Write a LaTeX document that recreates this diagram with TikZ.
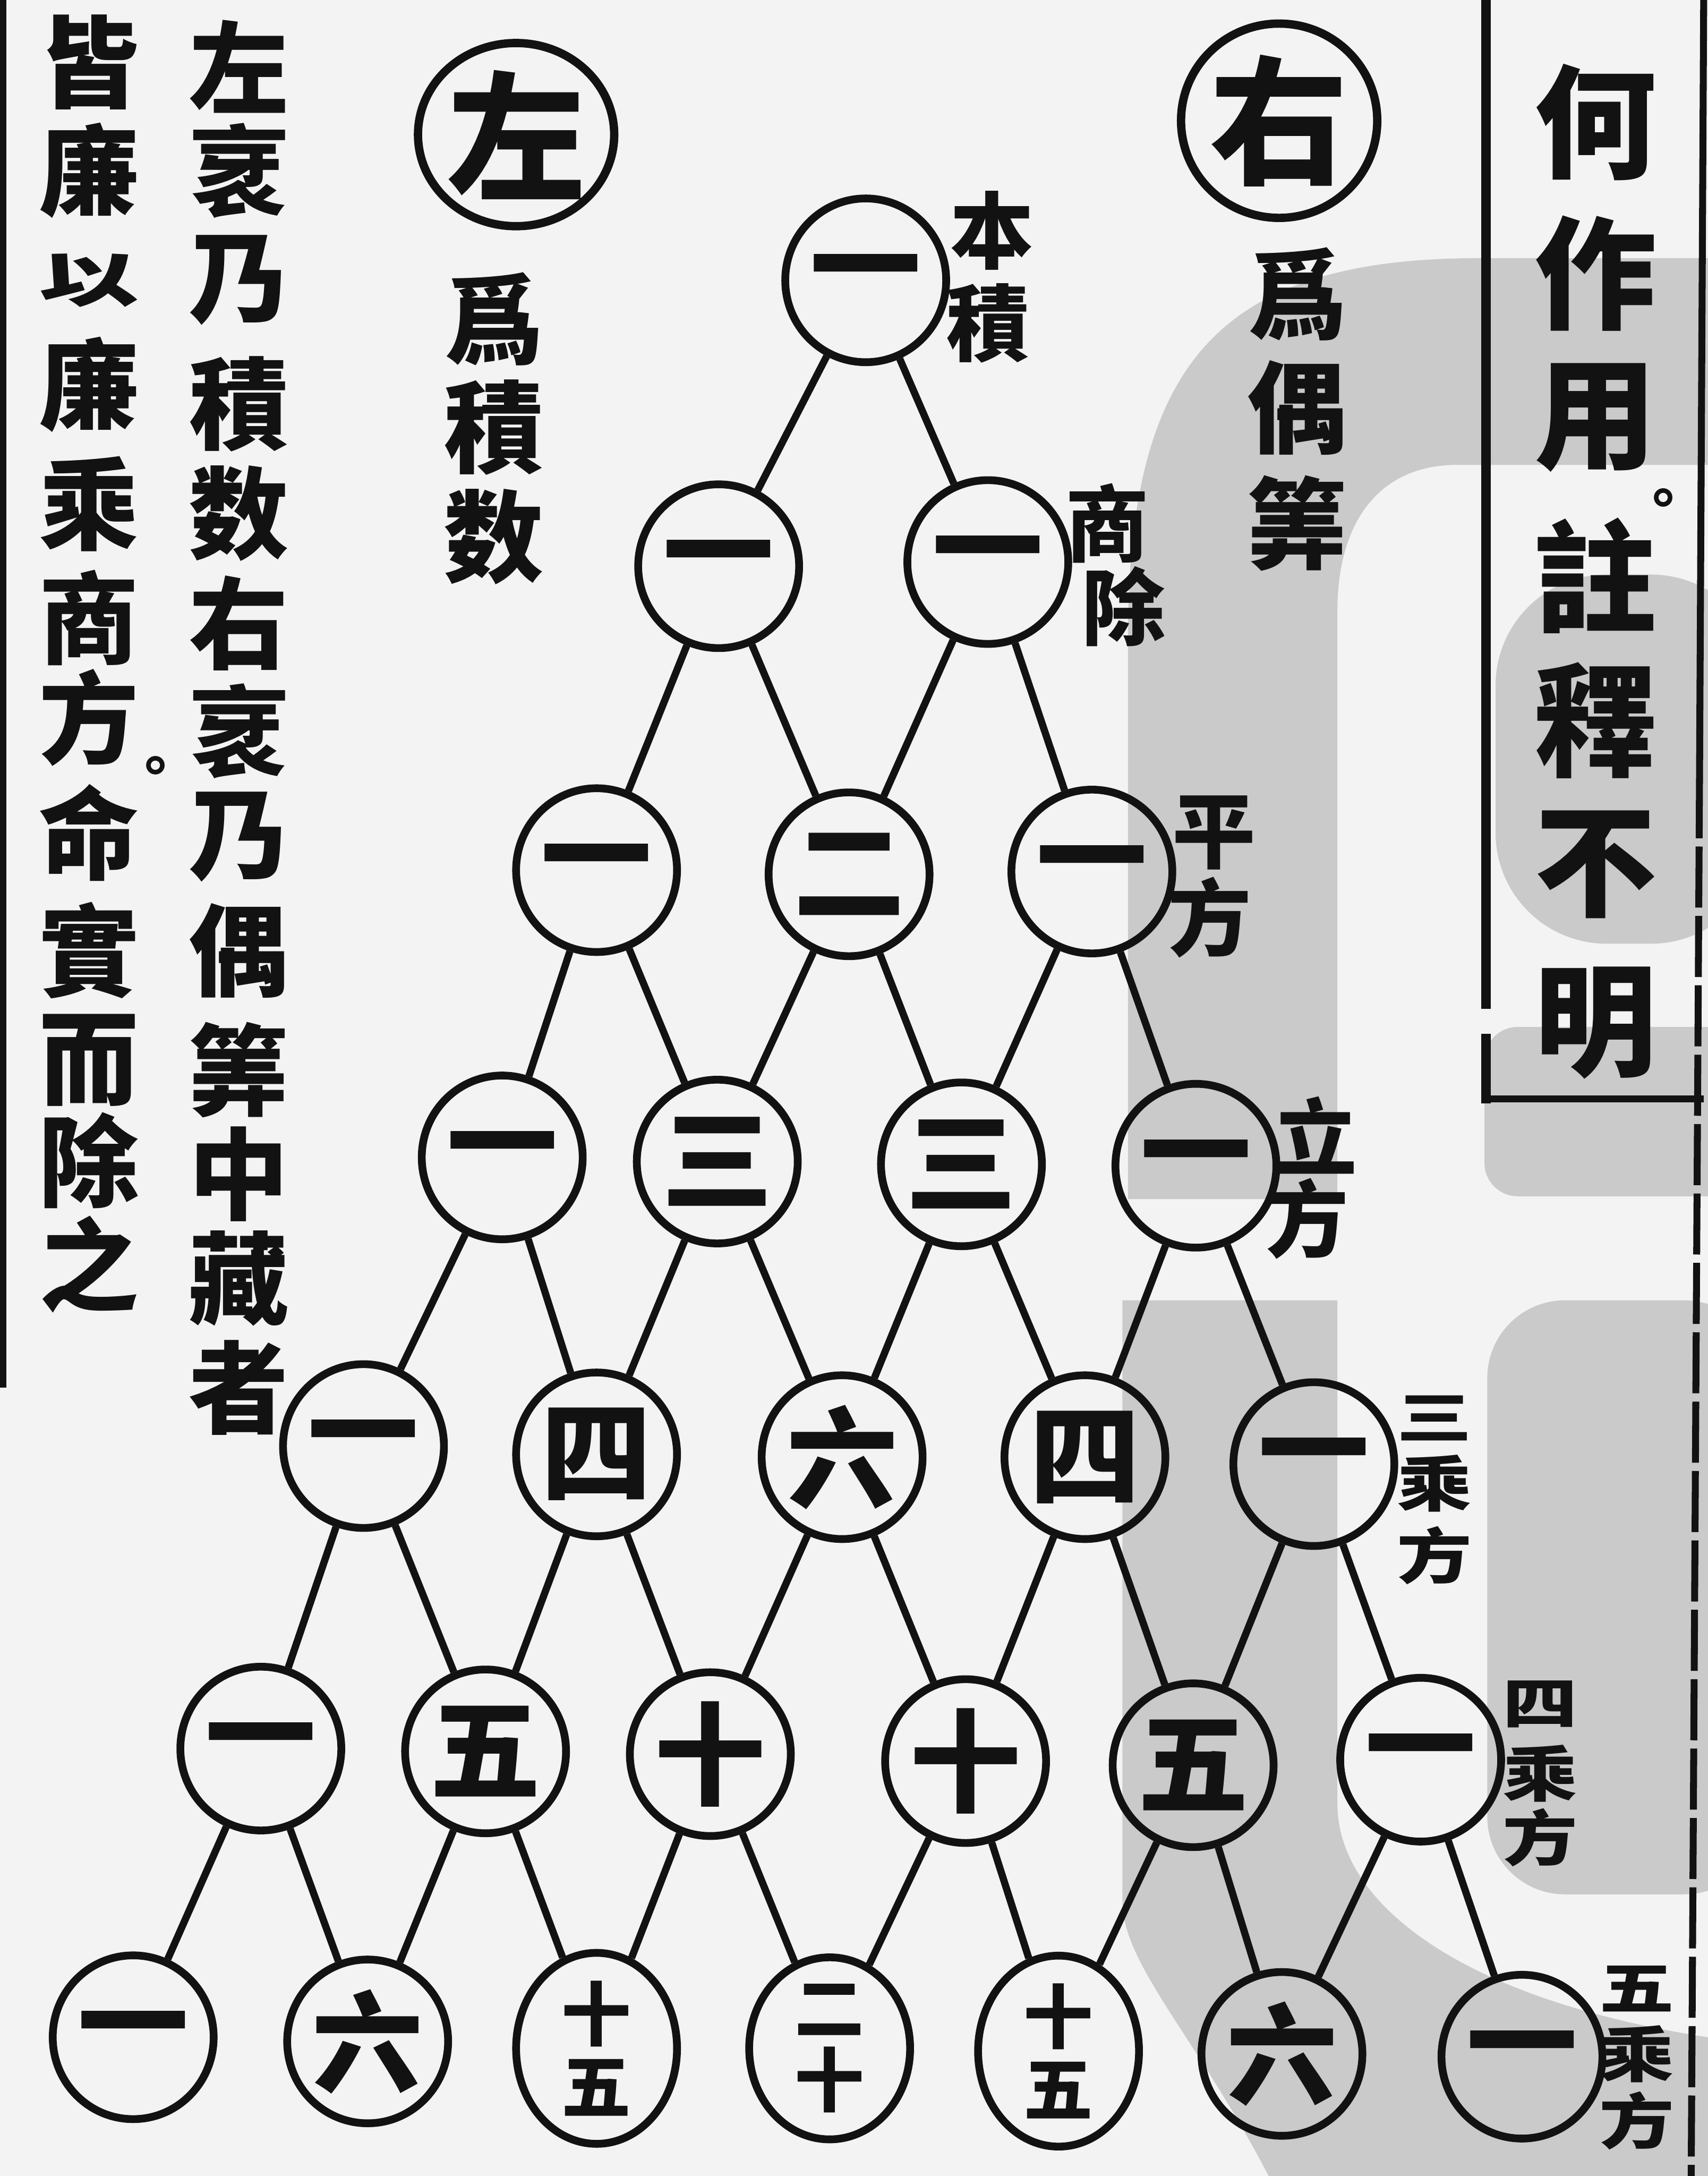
\documentclass[tikz,border=0pt]{standalone}
\usepackage{fontspec}
\newfontfamily\cjk{Noto Sans CJK TC}
\usetikzlibrary{shapes.geometric}
\definecolor{paper}{RGB}{243,243,243}
\definecolor{scangrey}{RGB}{202,202,202}
\definecolor{ink}{RGB}{18,18,18}
\begin{document}
\begin{tikzpicture}[x=0.5pt,y=-0.5pt,
  num/.style={ellipse,draw=ink,line width=2.8pt,minimum width=58pt,minimum height=59pt,inner sep=0pt,text=ink,font=\cjk\bfseries\fontsize{40}{40}\selectfont},
  stk/.style={num,align=center,font=\cjk\bfseries\fontsize{25}{26}\selectfont},
  link/.style={draw=ink,line width=2.6pt},
  colt/.style={text=ink,inner sep=0pt,font=\cjk\bfseries\fontsize{36}{36}\selectfont},
  boxt/.style={text=ink,inner sep=0pt,font=\cjk\bfseries\fontsize{44}{44}\selectfont},
  lab/.style={text=ink,inner sep=0pt,font=\cjk\bfseries\fontsize{30}{30}\selectfont},
  slab/.style={text=ink,inner sep=0pt,font=\cjk\bfseries\fontsize{27}{27}\selectfont},
  ring/.style={ellipse,draw=ink,line width=3pt,inner sep=0pt,text=ink,font=\cjk\bfseries\fontsize{50}{50}\selectfont},
  dot/.style={text=ink,inner sep=0pt,font=\cjk\bfseries\fontsize{20}{20}\selectfont},
  rule/.style={draw=ink,line width=3.5pt}]

\useasboundingbox (0,0) rectangle (1231,1568);
\fill[paper] (0,0) rectangle (1231,1568);

% grey shading of the scan
\fill[scangrey] (1260,186) -- (1067,186) .. controls (880,186) and (813,260) .. (813,460)
  -- (813,864) -- (964,864) -- (964,440) .. controls (964,375) and (995,335) .. (1050,335)
  -- (1260,335) -- cycle;
\fill[scangrey,rounded corners=40pt] (1270,414) -- (1078,414) -- (1078,680) -- (1270,680) -- cycle;
\fill[scangrey,rounded corners=12pt] (1270,740) -- (1070,740) -- (1070,862) -- (1270,862) -- cycle;
\fill[scangrey] (809,937) -- (964,937) -- (964,1300) .. controls (964,1370) and (1050,1440) .. (1231,1468)
  -- (1270,1468) -- (1270,1600) -- (930,1600) .. controls (875,1480) and (809,1420) .. (809,1370) -- cycle;
\fill[scangrey,rounded corners=28pt] (1270,937) -- (1072,937) -- (1072,1365) -- (1270,1365) -- cycle;

% rules
\draw[rule,line width=2.5pt] (2,0) -- (2,1000);
\draw[rule] (1071,0) -- (1071,727);
\draw[rule] (1071,745) -- (1071,795);
\draw[rule,line width=2.5pt] (1068,792) -- (1228,792);
\draw[rule,line width=2.5pt] (1228,0) -- (1225,560);
\draw[rule,line width=2.5pt,dash pattern=on 22pt off 3pt] (1225,560) -- (1219,1568);

% triangle
\node[num] (n-0-0) at (624,202) {一};
\node[num] (n-1-0) at (518,408) {一};
\node[num] (n-1-1) at (712,405) {一};
\node[num] (n-2-0) at (430,627) {一};
\node[num] (n-2-1) at (612,630) {二};
\node[num] (n-2-2) at (787,628) {一};
\node[num] (n-3-0) at (362,834) {一};
\node[num] (n-3-1) at (517,837) {三};
\node[num] (n-3-2) at (693,839) {三};
\node[num] (n-3-3) at (862,840) {一};
\node[num] (n-4-0) at (262,1042) {一};
\node[num] (n-4-1) at (430,1048) {四};
\node[num] (n-4-2) at (607,1050) {六};
\node[num] (n-4-3) at (782,1050) {四};
\node[num] (n-4-4) at (947,1055) {一};
\node[num] (n-5-0) at (188,1260) {一};
\node[num] (n-5-1) at (350,1262) {五};
\node[num] (n-5-2) at (512,1264) {十};
\node[num] (n-5-3) at (696,1269) {十};
\node[num] (n-5-4) at (860,1272) {五};
\node[num] (n-5-5) at (1024,1268) {一};
\node[num] (n-6-0) at (96,1468) {一};
\node[num] (n-6-1) at (265,1471) {六};
\node[stk] (n-6-2) at (430,1476) {十\\五};
\node[stk] (n-6-3) at (598,1476) {二\\十};
\node[stk] (n-6-4) at (763,1478) {十\\五};
\node[num] (n-6-5) at (924,1480) {六};
\node[num] (n-6-6) at (1097,1482) {一};

\foreach \r in {0,...,5} {
  \pgfmathtruncatemacro\rn{\r+1}
  \foreach \i in {0,...,\r} {
    \pgfmathtruncatemacro\ii{\i+1}
    \draw[link] (n-\r-\i) -- (n-\rn-\i);
    \draw[link] (n-\r-\i) -- (n-\rn-\ii);
  }
}

% side labels of the rows
\node[lab] (b1) at (715,166) {本};
\node[lab] (b2) at (712,233) {積};
\node[lab] (s1) at (798,377) {商};
\node[lab] (s2) at (810,437) {除};
\node[lab] (p1) at (875,600) {平};
\node[lab] (p2) at (872,661) {方};
\node[lab] (l1) at (948,818) {立};
\node[lab] (l2) at (942,878) {方};
\node[slab] (t1) at (1034,1022) {\scalebox{1}[0.75]{三}};
\node[slab] (t2) at (1034,1069) {\scalebox{1}[0.8]{乘}};
\node[slab] (t3) at (1034,1121) {\scalebox{1}[0.8]{方}};
\node[slab] (f1) at (1110,1228) {\scalebox{1}[0.75]{四}};
\node[slab] (f2) at (1110,1278) {\scalebox{1}[0.8]{乘}};
\node[slab] (f3) at (1110,1324) {\scalebox{1}[0.8]{方}};
\node[slab] (v1) at (1180,1433) {\scalebox{1}[0.75]{五}};
\node[slab] (v2) at (1180,1480) {\scalebox{1}[0.8]{乘}};
\node[slab] (v3) at (1180,1528) {\scalebox{1}[0.8]{方}};

% circled headings
\node[ring,minimum width=66pt,minimum height=70pt] (right) at (922,87) {右};
\node[ring,minimum width=70pt,minimum height=66pt] (left) at (372,97) {左};
\foreach \c/\y in {爲/212,偶/294,筭/377}
  \node[colt] (r-\y) at (935,\y) {\c};
\foreach \c/\y in {爲/230,積/308,数/387}
  \node[colt] (k-\y) at (356,\y) {\c};

% left columns
\foreach \c/\y in {左/48,衺/123,乃/202,積/291,数/370,右/449,衺/527,乃/603,偶/685,筭/771,中/846,藏/921,者/1000}
  \node[colt] (a-\y) at (172,\y) {\c};
\foreach \c/\y in {皆/45,廉/123,廉/277,乘/363,商/445,方/517,命/600,實/685,而/764,除/836,之/911}
  \node[colt] (c-\y) at (64,\y) {\c};
\node[colt] (c-202) at (64,202) {\scalebox{1}[0.6]{以}};
\node[dot] (c-dot) at (112,556) {。};

% boxed note
\foreach \c/\y in {何/88,作/197,用/301,註/415,釋/519,不/623,明/737}
  \node[boxt] (e-\y) at (1150,\y) {\c};
\node[dot] (e-dot) at (1199,363) {。};
\end{tikzpicture}
\end{document}
